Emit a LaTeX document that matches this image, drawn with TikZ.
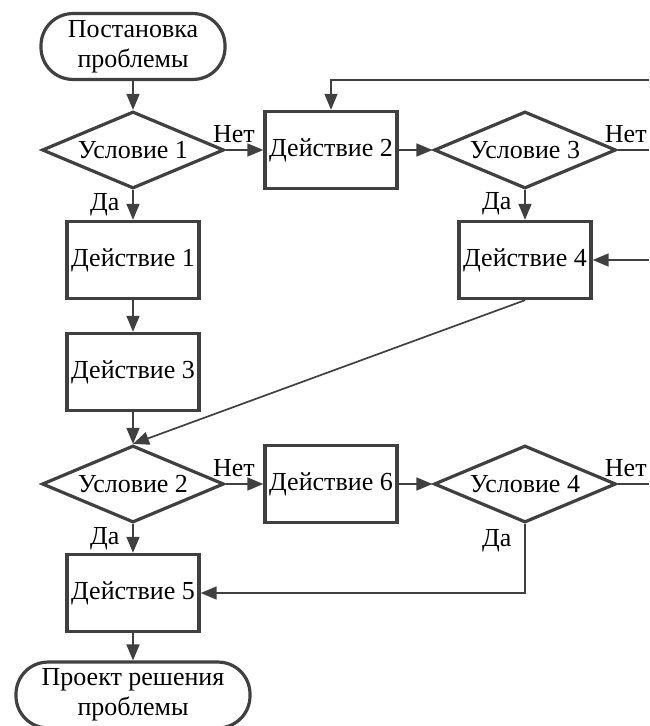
\documentclass[tikz,border=0pt]{standalone}
\usepackage{fontspec}
\setmainfont{Liberation Serif}
\usetikzlibrary{shapes.geometric,arrows.meta}
\definecolor{linecol}{HTML}{404040}
\begin{document}
\begin{tikzpicture}[x=0.5pt,y=-0.5pt,
        font=\fontsize{13}{15}\selectfont,
        line/.style={draw=linecol, line width=0.85pt},
        arr/.style={line, -{Triangle[length=8pt,width=6.5pt]}},
        act/.style={draw=linecol, line width=1.7pt, minimum width=66pt, minimum height=38.5pt, inner sep=1pt},
        cond/.style={diamond, draw=linecol, line width=1.6pt, aspect=2.3, minimum width=91pt, minimum height=38.5pt, inner sep=0pt},
        term/.style={draw=linecol, line width=1.6pt, rounded corners=16pt, align=center, minimum height=32.5pt},
        yes/.style={left, xshift=-3pt},
        no/.style={above}]
        \useasboundingbox (0,0) rectangle (649,726);
        \clip (0,0) rectangle (649,726);
        % blocks
        \node[term, minimum width=92pt] (start) at (133,46.5) {Постановка\\проблемы};
        \node[cond] (cond1) at (133,150) {Условие 1};
        \node[act] (act2) at (331,150) {Действие 2};
        \node[cond] (cond3) at (525,150) {Условие 3};
        \node[act] (act1) at (133,260) {Действие 1};
        \node[act] (act4) at (525,260) {Действие 4};
        \node[act] (act3) at (133,372) {Действие 3};
        \node[cond] (cond2) at (133,484) {Условие 2};
        \node[act] (act6) at (331,484) {Действие 6};
        \node[cond] (cond4) at (525,484) {Условие 4};
        \node[act] (act5) at (133,593) {Действие 5};
        \node[term, minimum width=117pt] (finish) at (133,695) {Проект решения\\проблемы};
        % free ends at the right edge
        \coordinate (top2) at (649,80);
        \coordinate (out3) at (649,150);
        \coordinate (in4) at (649,260);
        \coordinate (out4) at (649,484);
        % connectors
        \draw[arr] (start) -- (cond1);
        \draw[arr] (cond1) -- node[no, pos=0.22] {Нет} (act2);
        \draw[arr] (act2) -- (cond3);
        \draw[line] (cond3.east) -- node[no, pos=0.26] {Нет} (out3);
        \draw[arr] (top2) -| (act2.north);
        \draw[arr] (cond1) -- node[yes, pos=0.5] {Да} (act1);
        \draw[arr] (cond3) -- node[yes, pos=0.45] {Да} (act4);
        \draw[arr] (in4) -- (act4.east);
        \draw[arr] (act1) -- (act3);
        \draw[arr] (act3) -- (cond2);
        \draw[arr] (act4.south) -- (cond2.north);
        \draw[arr] (cond2) -- node[no, pos=0.22] {Нет} (act6);
        \draw[arr] (act6) -- (cond4);
        \draw[line] (cond4.east) -- node[no, pos=0.26] {Нет} (out4);
        \draw[arr] (cond2) -- node[yes, pos=0.5] {Да} (act5);
        \draw[arr] (cond4.south) |- node[yes, pos=0.12] {Да} (act5.east);
        \draw[arr] (act5) -- (finish);
\end{tikzpicture}
\end{document}
